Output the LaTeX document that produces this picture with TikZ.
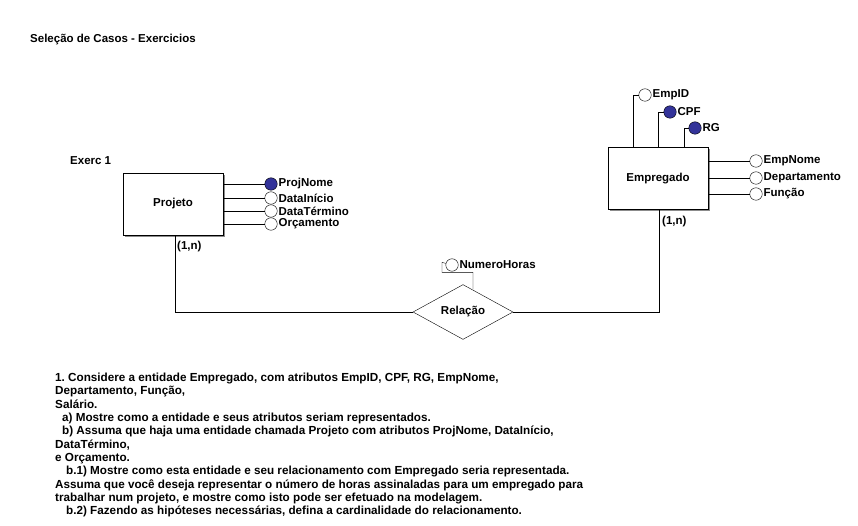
\documentclass[tikz,border=0pt]{standalone}
\usepackage{fontspec}
\setmainfont{Liberation Sans}
\usetikzlibrary{shapes.geometric,shadows}
\definecolor{keyblue}{RGB}{51,51,153}
\definecolor{shadowgray}{RGB}{140,140,140}
\frenchspacing
\begin{document}
\begin{tikzpicture}[x=1pt,y=-1pt,
  font=\fontsize{11.5}{13}\selectfont\bfseries,
  entity/.style={draw,fill=white,minimum width=100pt,minimum height=62pt,inner sep=0pt,
    drop shadow={shadow xshift=2pt,shadow yshift=-2pt,fill=shadowgray,opacity=1}},
  relship/.style={draw,diamond,fill=white,minimum width=100pt,minimum height=50pt,inner sep=0pt},
  attr/.style={draw,circle,fill=white,minimum size=12.5pt,inner sep=0pt},
  keyattr/.style={attr,fill=keyblue},
  lbl/.style={anchor=west,inner sep=1pt}]
  \useasboundingbox (0,0) rectangle (858,526);

  % Headings
  \node[lbl] (title) at (29,40) {Seleção de Casos - Exercicios};
  \node[lbl] (exerc) at (69,161) {Exerc 1};

  % Entities and relationship
  \node[entity] (projeto) at (173,204) {Projeto};
  \node[entity] (empregado) at (658,178.5) {Empregado};
  \node[relship] (relacao) at (463,312) {Relação};

  % Projeto attributes
  \foreach \n/\y/\s/\l in {pn/184/keyattr/ProjNome,di/198/attr/DataInício,
                           dt/211/attr/DataTérmino,oc/224/attr/Orçamento}
     {\node[\s] (\n) at (271,\y) {};
      \draw (projeto.east |- \n) -- (\n);
      \node[lbl] (\n-l) at (\n.east) {\l};}

  % Empregado attributes (right side)
  \foreach \n/\y/\l in {en/161/EmpNome,dp/178/Departamento,fn/194/Função}
     {\node[attr] (\n) at (756,\y) {};
      \draw (empregado.east |- \n) -- (\n);
      \node[lbl] (\n-l) at (\n.east) {\l};}

  % Empregado attributes (top)
  \foreach \n/\dx/\x/\y/\s/\l in {ei/25/645/95/attr/EmpID,cp/50/670/112/keyattr/CPF,
                                  rg/76/695/128/keyattr/RG}
     {\node[\s] (\n) at (\x,\y) {};
      \draw ([xshift=\dx pt]empregado.north west) |- (\n);
      \node[lbl] (\n-l) at (\n.east) {\l};}

  % Relationship attribute
  \node[attr] (nh) at (452,265) {};
  \node[lbl] (nh-l) at (nh.east) {NumeroHoras};
  \draw ([xshift=10pt,yshift=-5pt]relacao.north) -- ++(0,-17) -- ++(-31,0) -- ++(0,-10) -- (nh);

  % Connections with cardinalities
  \draw ([xshift=2pt]projeto.south) |- (relacao.west);
  \draw ([xshift=1pt]empregado.south) |- (relacao.east);
  \node[lbl] (c1) at (176,247) {(1,n)};
  \node[lbl] (c2) at (661,222) {(1,n)};

  % Exercise text
  \node[anchor=north west,align=left,inner sep=0pt,font=\fontsize{11.7}{13.3}\selectfont\bfseries]
    (enunciado) at (55,373) {1. Considere a entidade Empregado, com atributos EmpID, CPF, RG, EmpNome,\\
    Departamento, Função,\\
    Salário.\\
    \hspace*{7pt}a) Mostre como a entidade e seus atributos seriam representados.\\
    \hspace*{7pt}b) Assuma que haja uma entidade chamada Projeto com atributos ProjNome, DataInício,\\
    DataTérmino,\\
    e Orçamento.\\
    \hspace*{11pt}b.1) Mostre como esta entidade e seu relacionamento com Empregado seria representada.\\
    Assuma que você deseja representar o número de horas assinaladas para um empregado para\\
    trabalhar num projeto, e mostre como isto pode ser efetuado na modelagem.\\
    \hspace*{11pt}b.2) Fazendo as hipóteses necessárias, defina a cardinalidade do relacionamento.};
\end{tikzpicture}
\end{document}
